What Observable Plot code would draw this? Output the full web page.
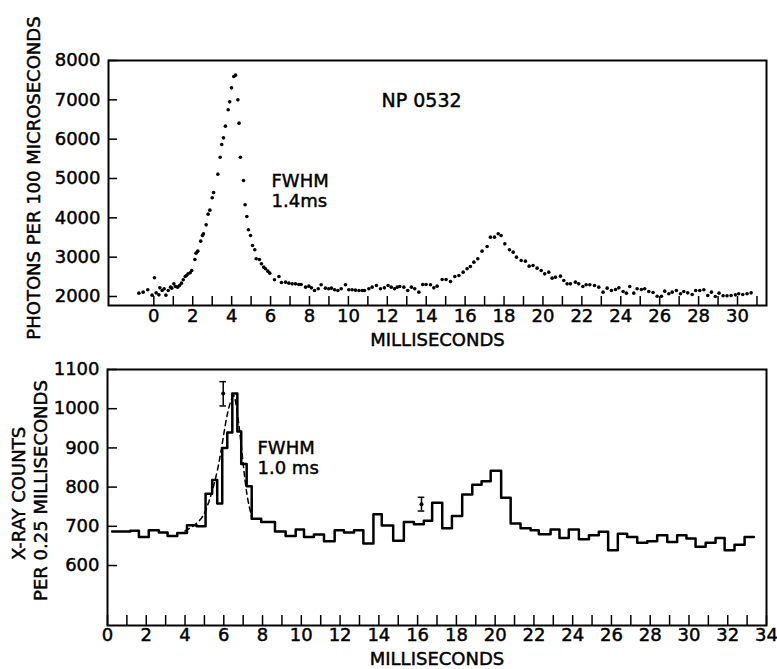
<!DOCTYPE html>
<html><head><meta charset="utf-8">
<script src="https://cdn.jsdelivr.net/npm/d3@7"></script>
<script src="https://cdn.jsdelivr.net/npm/@observablehq/plot@0.6"></script>
<style>
body{margin:0;background:#fff;}
#chart{width:777px;height:669px;overflow:hidden;}
#chart svg{display:block;overflow:visible;}
#chart svg text{stroke:#000;stroke-width:0.45px;}
</style></head><body><div id="chart"></div>
<script>
// ---- Top panel: optical pulse of NP 0532 (photons per 100 microseconds) ----
const topMs = [-0.77,-0.55,-0.31,-0.09,0.03,0.12,0.26,0.31,0.43,0.53,0.62,0.74,0.86,0.92,1.03,1.11,1.22,1.32,1.42,1.51,1.61,1.68,1.76,1.87,1.95,2.11,2.17,2.26,2.41,2.50,2.55,2.69,2.79,2.88,3.00,3.07,3.29,3.41,3.49,3.58,3.68,3.82,3.90,3.99,4.11,4.20,4.32,4.38,4.45,4.61,4.69,4.78,4.86,4.97,5.07,5.19,5.26,5.43,5.53,5.65,5.74,5.86,5.96,6.20,6.43,6.56,6.77,6.94,7.11,7.28,7.45,7.57,7.80,7.97,8.10,8.26,8.45,8.60,8.82,8.99,9.13,9.29,9.46,9.63,9.85,10.02,10.19,10.36,10.54,10.71,10.83,11.05,11.22,11.44,11.65,11.85,12.04,12.20,12.37,12.51,12.64,12.85,13.05,13.24,13.41,13.62,13.82,13.99,14.22,14.39,14.56,14.82,15.02,15.25,15.47,15.68,15.90,16.10,16.27,16.45,16.65,16.87,17.13,17.30,17.51,17.70,17.85,18.04,18.28,18.47,18.64,18.88,19.10,19.29,19.49,19.70,19.91,20.09,20.30,20.47,20.64,20.90,21.07,21.24,21.41,21.67,21.84,22.05,22.22,22.41,22.65,22.87,23.09,23.30,23.52,23.73,23.90,24.12,24.29,24.46,24.67,24.84,25.06,25.23,25.44,25.66,25.87,26.09,26.26,26.47,26.64,26.86,27.07,27.24,27.44,27.67,27.85,28.06,28.27,28.47,28.66,28.86,29.05,29.26,29.46,29.67,29.89,30.06,30.27,30.49,30.70];
const topPhotons = [2085,2110,2170,2034,2475,2093,2042,2220,2153,2195,2034,2153,2237,2212,2322,2254,2237,2280,2339,2424,2508,2534,2576,2602,2661,2941,3102,3153,3407,3551,3593,3822,4093,4195,4509,4644,5110,5542,5865,6034,6331,6746,6949,7305,7593,7627,7000,6407,5542,4949,4331,4034,3695,3551,3297,3187,2958,2941,2831,2746,2704,2644,2593,2424,2509,2356,2365,2339,2322,2322,2305,2305,2237,2263,2220,2153,2195,2297,2212,2195,2212,2170,2153,2195,2297,2170,2170,2161,2153,2153,2153,2195,2237,2280,2195,2220,2280,2237,2195,2237,2254,2237,2153,2237,2195,2110,2305,2305,2297,2220,2263,2432,2432,2381,2509,2534,2619,2704,2763,2873,2958,3153,3271,3509,3509,3594,3551,3339,3187,3127,3000,2915,2899,2771,2788,2720,2661,2576,2619,2466,2492,2517,2407,2322,2322,2365,2322,2254,2297,2297,2280,2237,2110,2212,2153,2178,2220,2127,2085,2254,2085,2195,2178,2195,2127,2102,2008,2008,2136,2068,2110,2153,2068,2127,2093,2051,2153,2153,2170,2025,2110,2000,2085,2017,2017,2025,2042,2068,2051,2068,2093];
const topYTicks = [2000,3000,4000,5000,6000,7000,8000];
const topXTicks = [0,1,2,3,4,5,6,7,8,9,10,11,12,13,14,15,16,17,18,19,20,21,22,23,24,25,26,27,28,29,30,31];
const topXLabels = [0,2,4,6,8,10,12,14,16,18,20,22,24,26,28,30];

// ---- Bottom panel: X-ray histogram (counts per 0.25 ms) ----
const histStart = [0.24,1.18,1.62,2.13,2.65,3.10,3.60,4.10,4.60,5.06,5.40,5.66,5.92,6.18,6.44,6.70,6.90,7.18,7.44,7.93,8.64,9.19,9.71,10.14,10.65,11.17,11.72,12.20,12.72,13.20,13.72,14.15,14.74,15.29,15.81,16.32,16.75,17.27,17.77,18.30,18.82,19.30,19.77,20.31,20.80,21.31,21.83,22.25,22.86,23.32,23.80,24.32,24.84,25.35,25.83,26.33,26.81,27.33,27.85,28.36,28.88,29.39,29.87,30.34,30.86,31.37,31.84,32.35,32.87];
const histCounts = [687,689,673,690,684,675,683,703,700,783,818,758,900,939,1039,942,859,802,719,711,687,675,692,673,679,662,690,684,690,656,731,702,663,711,705,714,760,695,726,781,806,815,842,773,707,695,690,680,692,670,692,667,677,686,639,681,673,658,662,677,660,677,669,648,658,670,639,653,673];
const histEnd = 33.35;
const fitMs = [4.0,4.4,4.8,5.1,5.4,5.7,5.95,6.2,6.45,6.6,6.8,7.0,7.2,7.45];
const fitCounts = [688,700,718,745,790,850,920,990,1030,1020,950,860,780,722];
const errMs = [5.97,16.2];
const errMid = [1039,756];
const errLow = [1007,739];
const errHigh = [1069,774];
const botYTicks = [600,700,800,900,1000,1100];
const botXTicks = [0,1,2,3,4,5,6,7,8,9,10,11,12,13,14,15,16,17,18,19,20,21,22,23,24,25,26,27,28,29,30,31,32,33,34];
const botXLabels = [0,2,4,6,8,10,12,14,16,18,20,22,24,26,28,30,32,34];

const FONT = "DejaVu Sans, sans-serif";
const topData = topMs.map((x, i) => ({x, y: topPhotons[i]}));
const histData = histStart.map((x, i) => ({x, y: histCounts[i]}));
histData.push({x: histEnd, y: histCounts[histCounts.length - 1]});
const fitData = fitMs.map((x, i) => ({x, y: fitCounts[i]}));
const errData = errMs.map((x, i) => ({x, y: errMid[i], lo: errLow[i], hi: errHigh[i]}));

const topH = 350, topMT = 60, topMB = 45;
const topPlot = Plot.plot({
  width: 777, height: topH,
  marginLeft: 108, marginRight: 11, marginTop: topMT, marginBottom: topMB,
  style: {fontFamily: FONT, fontSize: "18px", color: "#000", background: "#fff"},
  x: {domain: [-2.33, 31.49], axis: null},
  y: {domain: [1771, 8000], axis: null},
  marks: [
    Plot.frame({stroke: "#000", strokeWidth: 2}),
    Plot.tickX(topXTicks, {x: d => d, stroke: "#000", strokeWidth: 1.5, insetTop: (topH - topMT - topMB) - 9}),
    Plot.tickY(topYTicks, {y: d => d, stroke: "#000", strokeWidth: 1.5, insetRight: 658 - 9}),
    Plot.axisX({ticks: topXLabels, tickSize: 0, tickPadding: 4, label: null, fontSize: 18, tickFormat: d => String(d)}),
    Plot.axisY({ticks: topYTicks, tickSize: 0, tickPadding: 8, label: null, fontSize: 18, tickFormat: d => String(d)}),
    Plot.dot(topData, {x: "x", y: "y", r: 1.8, fill: "#000", stroke: null}),
    Plot.text(["MILLISECONDS"], {frameAnchor: "bottom", dy: 35, fontSize: 18, lineAnchor: "middle", letterSpacing: "0.8px"}),
    Plot.text(["PHOTONS PER 100 MICROSECONDS"], {frameAnchor: "left", rotate: -90, dx: -74, dy: -5, fontSize: 18, textAnchor: "middle", lineAnchor: "middle", letterSpacing: "0.5px"}),
    Plot.text(["NP 0532"], {frameAnchor: "top-left", dx: 273, dy: 40, fontSize: 19, textAnchor: "start", lineAnchor: "middle"}),
    Plot.text(["FWHM"], {frameAnchor: "top-left", dx: 163, dy: 121, fontSize: 18, textAnchor: "start", lineAnchor: "middle"}),
    Plot.text(["1.4ms"], {frameAnchor: "top-left", dx: 163, dy: 141, fontSize: 18, textAnchor: "start", lineAnchor: "middle"})
  ]
});

const botH = 319, botMT = 19, botMB = 44;
const botPlot = Plot.plot({
  width: 777, height: botH,
  marginLeft: 107, marginRight: 11, marginTop: botMT, marginBottom: botMB,
  style: {fontFamily: FONT, fontSize: "18px", color: "#000", background: "#fff"},
  x: {domain: [0, 34], axis: null},
  y: {domain: [447, 1100], axis: null},
  marks: [
    Plot.frame({stroke: "#000", strokeWidth: 2}),
    Plot.tickX(botXTicks, {x: d => d, stroke: "#000", strokeWidth: 1.5, insetTop: (botH - botMT - botMB) - 10}),
    Plot.tickY(botYTicks, {y: d => d, stroke: "#000", strokeWidth: 1.5, insetRight: 659 - 10}),
    Plot.axisX({ticks: botXLabels, tickSize: 0, tickPadding: 3, label: null, fontSize: 18, tickFormat: d => String(d)}),
    Plot.axisY({ticks: botYTicks, tickSize: 0, tickPadding: 8, label: null, fontSize: 18, tickFormat: d => String(d)}),
    Plot.line(fitData, {x: "x", y: "y", stroke: "#000", strokeWidth: 1.5, strokeDasharray: "5,4", curve: "natural"}),
    Plot.line(histData, {x: "x", y: "y", stroke: "#000", strokeWidth: 2.5, curve: "step-after"}),
    Plot.ruleX(errData, {x: "x", y1: "lo", y2: "hi", stroke: "#000", strokeWidth: 1.5}),
    Plot.ruleY(errData, {y: "lo", x1: d => d.x - 0.17, x2: d => d.x + 0.17, stroke: "#000", strokeWidth: 1.5}),
    Plot.ruleY(errData, {y: "hi", x1: d => d.x - 0.17, x2: d => d.x + 0.17, stroke: "#000", strokeWidth: 1.5}),
    Plot.dot(errData, {x: "x", y: "y", r: 2, fill: "#000", stroke: null}),
    Plot.text(["MILLISECONDS"], {frameAnchor: "bottom", dy: 34, fontSize: 18, lineAnchor: "middle", letterSpacing: "0.8px"}),
    Plot.text(["X-RAY COUNTS"], {frameAnchor: "left", rotate: -90, dx: -88, dy: -4, fontSize: 18, textAnchor: "middle", lineAnchor: "middle", letterSpacing: "0.4px"}),
    Plot.text(["PER 0.25 MILLISECONDS"], {frameAnchor: "left", rotate: -90, dx: -66, dy: -7, fontSize: 18, textAnchor: "middle", lineAnchor: "middle", letterSpacing: "0.5px"}),
    Plot.text(["FWHM"], {frameAnchor: "top-left", dx: 150, dy: 79, fontSize: 18, textAnchor: "start", lineAnchor: "middle"}),
    Plot.text(["1.0 ms"], {frameAnchor: "top-left", dx: 150, dy: 99, fontSize: 18, textAnchor: "start", lineAnchor: "middle"})
  ]
});

const chart = document.getElementById("chart");
chart.appendChild(topPlot);
chart.appendChild(botPlot);
</script>
</body></html>
